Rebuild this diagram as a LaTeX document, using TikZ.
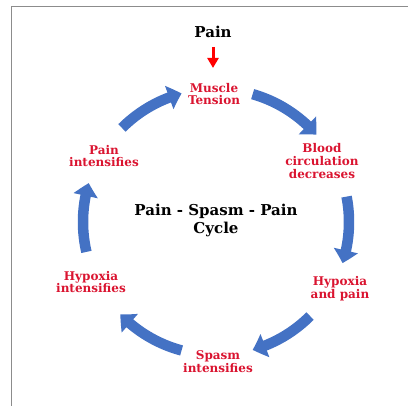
\documentclass[tikz,border=0pt]{standalone}
\usepackage{fontspec}
\setmainfont{DejaVu Serif}
\usetikzlibrary{arrows.meta,calc,bending}
\definecolor{cycblue}{RGB}{68,114,196}
\definecolor{lblred}{RGB}{218,20,48}
\definecolor{bordergray}{RGB}{140,140,140}
\begin{document}
\begin{tikzpicture}[x=1pt,y=1pt,
  lbl/.style={align=center,font=\bfseries\fontsize{12}{12.8}\selectfont,text=lblred,inner sep=1pt},
  ttl/.style={align=center,font=\bfseries\fontsize{15}{18}\selectfont,text=black,inner sep=1pt},
  cyc/.style={draw=cycblue,line width=10.5pt,line cap=butt,-{Triangle[length=13pt,width=24pt,bend]}},
  redarrow/.style={draw=red,fill=red,line width=3pt,-{Triangle[length=10pt,width=11pt]}}]
\useasboundingbox (0,0) rectangle (408,406);
\draw[bordergray,line width=1pt] (11,0) -- (11,399) -- (408,399);
\coordinate (C) at (216,184);
\def\R{133}
\node[ttl] (pain) at (213,374) {Pain};
\node[lbl] (muscle) at (214,312) {Muscle\\Tension};
\node[lbl] (blood) at (322,245) {Blood\\circulation\\decreases};
\node[lbl] (hyppain) at (340,117) {Hypoxia\\and pain};
\node[lbl] (spasm) at (218,44) {Spasm\\intensifies};
\node[lbl] (hypint) at (91,124) {Hypoxia\\intensifies};
\node[lbl] (painint) at (104,250) {Pain\\intensifies};
\node[ttl] (title) at (216,186) {Pain - Spasm - Pain\\Cycle};
\draw[redarrow,shorten <=15pt,shorten >=26pt] (pain.center) -- (pain.center |- muscle.center);
\coordinate (s1) at ($(C)+(135:\R)$);
\coordinate (s2) at ($(C)+(74:\R)$);
\coordinate (s3) at ($(C)+(11:\R)$);
\coordinate (s4) at ($(C)+(-45:\R)$);
\coordinate (s5) at ($(C)+(-105:\R)$);
\coordinate (s6) at ($(C)+(193:\R)$);
\draw[cyc] (s1) arc[start angle=135,end angle=105,radius=\R];
\draw[cyc] (s2) arc[start angle=74,end angle=41,radius=\R];
\draw[cyc] (s3) arc[start angle=11,end angle=-18,radius=\R];
\draw[cyc] (s4) arc[start angle=-45,end angle=-74,radius=\R];
\draw[cyc] (s5) arc[start angle=-105,end angle=-136,radius=\R];
\draw[cyc] (s6) arc[start angle=193,end angle=163,radius=\R];
\end{tikzpicture}
\end{document}
